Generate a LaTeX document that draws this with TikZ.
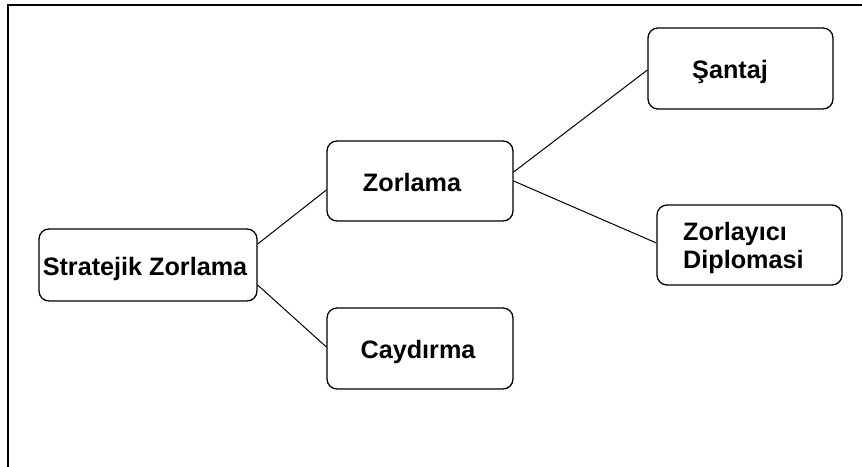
\documentclass[tikz,border=0pt]{standalone}
\usepackage{fontspec}
\setmainfont{Liberation Sans}
\begin{document}
\begin{tikzpicture}[x=1pt,y=-1pt,
  box/.style={draw=black,line width=1.3pt,rounded corners=10pt,inner sep=0pt},
  lbl/.style={inner sep=0pt,font=\fontsize{25.2}{27.5}\selectfont\bfseries},
  conn/.style={draw=black,line width=1pt}]
\useasboundingbox (0,0) rectangle (862,466);
\fill[white] (0,0) rectangle (862,466);
\coordinate (fb) at (7.5,470);
\coordinate (fc) at (7.5,4.5);
\coordinate (fr) at (866,4.5);
\draw[line width=2pt] (fb) -- (fc) -- (fr);
% boxes
\node[box,minimum width=218pt,minimum height=72pt] (strat) at (148,265) {};
\node[box,minimum width=186pt,minimum height=80pt] (zor) at (420,181) {};
\node[box,minimum width=186pt,minimum height=81pt] (cay) at (420,348.5) {};
\node[box,minimum width=185pt,minimum height=81pt] (san) at (740.5,68.5) {};
\node[box,minimum width=185pt,minimum height=80pt] (zd) at (749.5,245) {};
% labels
\node[lbl,anchor=base] (tstrat) at (145,275) {Stratejik Zorlama};
\node[lbl,anchor=base] (tzor) at (412,191) {Zorlama};
\node[lbl,anchor=base] (tcay) at (418,358) {Caydırma};
\node[lbl,anchor=base] (tsan) at (730,78) {Şantaj};
\node[lbl,anchor=base west,align=left] (tzd) at (683,268) {Zorlayıcı\\Diplomasi};
% connectors
\draw[conn] ([yshift=21pt]strat.east) -- ([yshift=-9pt]zor.west);
\draw[conn] ([yshift=-20pt]strat.east) -- ([yshift=1.5pt]cay.west);
\draw[conn] ([yshift=9pt]zor.east) -- ([yshift=-1.5pt]san.west);
\draw[conn] (zor.east) -- ([yshift=2pt]zd.west);
\end{tikzpicture}
\end{document}
